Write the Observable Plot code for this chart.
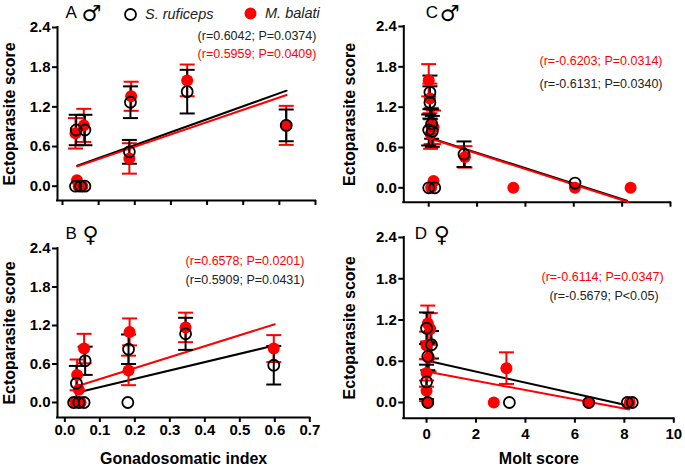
<!DOCTYPE html>
<html>
<head>
<meta charset="utf-8">
<script src="https://cdn.jsdelivr.net/npm/d3@7"></script>
<script src="https://cdn.jsdelivr.net/npm/@observablehq/plot@0.6"></script>
<style>
  html, body { margin: 0; padding: 0; background: #fff; }
  #chart { position: relative; width: 685px; height: 467px; overflow: hidden; font-family: 'Liberation Sans', Arial, Helvetica, sans-serif; }
  #chart svg.panel { position: absolute; }
  .lg-text { position: absolute; font-style: italic; font-size: 14.5px; line-height: 16px; color: #222; white-space: nowrap; }
</style>
</head>
<body>
<div id="chart">
  <svg style="position:absolute;left:123px;top:7px" width="15" height="15"><circle cx="7.5" cy="7.5" r="5.5" fill="none" stroke="black" stroke-width="1.8"/></svg>
  <div class="lg-text" style="left:145px;top:6px">S. ruficeps</div>
  <svg style="position:absolute;left:243px;top:6px" width="15" height="15"><circle cx="7.5" cy="7.5" r="6" fill="red"/></svg>
  <div class="lg-text" style="left:265px;top:5px">M. balati</div>
</div>
<script>
// ---- tick values ----
const scoreTicks = [0, 0.6, 1.2, 1.8, 2.4];
const gsiTicks = [0, 0.1, 0.2, 0.3, 0.4, 0.5, 0.6, 0.7];
const moltTicks = [0, 2, 4, 6, 8, 10];

// ---- labels ----
const yTitle = "Ectoparasite score";
const gsiTitle = "Gonadosomatic index";
const moltTitle = "Molt score";
const panelLetters = ["A", "B", "C", "D"];
const sexSymbols = ["\u2642", "\u2640", "\u2642", "\u2640"];

// ---- data: [x, mean ectoparasite score, SE] ----
// Panel A: males, GSI
const maleGsiRuficeps = [[0.038,0.85,0.23],[0.062,0.85,0.23],[0.036,0,0],[0.05,0,0],[0.062,0,0],[0.188,1.27,0.24],[0.185,0.52,0.18],[0.345,1.43,0.33],[0.619,0.92,0.24]];
const maleGsiBalati = [[0.036,0.80,0.23],[0.059,0.92,0.25],[0.04,0.09,0],[0.045,0,0],[0.055,0,0],[0.19,1.36,0.22],[0.185,0.42,0.23],[0.345,1.60,0.24],[0.619,0.92,0.295]];
const maleGsiFitRuficeps = [[0.041,0.31],[0.62,1.445]];
const maleGsiFitBalati = [[0.041,0.30],[0.62,1.38]];
const maleGsiStats = ["(r=0.6042; P=0.0374)", "(r=0.5959; P=0.0409)"];

// Panel B: females, GSI
const femaleGsiRuficeps = [[0.033,0.30,0.27],[0.058,0.65,0.22],[0.025,0,0],[0.04,0,0],[0.055,0,0],[0.182,0.83,0.23],[0.18,0,0],[0.345,1.07,0.25],[0.597,0.58,0.30]];
const femaleGsiBalati = [[0.035,0.43,0.24],[0.04,0.2,0],[0.055,0.84,0.23],[0.03,0,0],[0.045,0,0],[0.185,1.10,0.21],[0.182,0.50,0.23],[0.345,1.17,0.23],[0.597,0.84,0.21]];
const femaleGsiFitRuficeps = [[0.039,0.16],[0.60,0.89]];
const femaleGsiFitBalati = [[0.039,0.26],[0.60,1.22]];
const femaleGsiStats = ["(r=0.6578; P=0.0201)", "(r=0.5909; P=0.0431)"];

// Panel C: males, molt
const maleMoltRuficeps = [[0.05,1.42,0.25],[0.05,1.27,0.24],[0.12,0.95,0.22],[0,0.86,0.23],[0.15,0.84,0.23],[1.46,0.5,0.19],[0,0,0],[0.25,0,0],[6.05,0.07,0]];
const maleMoltBalati = [[0,1.6,0.24],[0.05,1.33,0.22],[0.1,0.92,0.27],[0.2,0.9,0.25],[0.08,0.8,0.22],[1.5,0.46,0.16],[0.1,0,0],[0.2,0.1,0],[3.5,0,0],[6.05,0,0],[8.35,0,0]];
const maleMoltFitRuficeps = [[0,0.75],[8.2,-0.19]];
const maleMoltFitBalati = [[0,0.74],[8.25,-0.21]];
const maleMoltStats = ["(r=-0.6203; P=0.0314)", "(r=-0.6131; P=0.0340)"];

// Panel D: females, molt
const femaleMoltRuficeps = [[0,1.08,0.23],[0.2,0.84,0.2],[0.05,0.67,0.2],[0,0.3,0.25],[0.05,0,0],[3.35,0,0],[6.56,0,0],[8.12,0,0],[8.32,0,0]];
const femaleMoltBalati = [[0.05,1.15,0.26],[0.15,1.07,0.23],[0,0.83,0.2],[0.1,0.65,0.2],[0,0.43,0.2],[0,0.17,0.15],[0.05,0,0],[2.72,0,0],[3.23,0.5,0.23],[6.56,0,0],[8.22,0,0]];
const femaleMoltFitRuficeps = [[0,0.61],[8.1,-0.04]];
const femaleMoltFitBalati = [[0,0.45],[8.2,-0.1]];
const femaleMoltStats = ["(r=-0.6114; P=0.0347)", "(r=-0.5679; P<0.05)"];

const FONT = "'Liberation Sans', Arial, Helvetica, sans-serif";
const capSymbol = { draw(ctx) { ctx.moveTo(-7.5, 0); ctx.lineTo(7.5, 0); } };

function panel(cfg) {
  const row = d => ({x: d[0], y: d[1], se: d[2]});
  const ruf = cfg.ruf.map(row), bal = cfg.bal.map(row);
  const bars = s => s.filter(d => d.se > 0);
  const errMarks = (s, color) => [
    Plot.ruleX(bars(s), {x: "x", y1: d => d.y - d.se, y2: d => d.y + d.se, stroke: color, strokeWidth: 2}),
    Plot.dot(bars(s), {x: "x", y: d => d.y + d.se, symbol: capSymbol, fill: "none", stroke: color, strokeWidth: 2}),
    Plot.dot(bars(s), {x: "x", y: d => d.y - d.se, symbol: capSymbol, fill: "none", stroke: color, strokeWidth: 2})
  ];
  const statMarks = cfg.stats.map((t, i) => Plot.text([t], {
    text: d => d, frameAnchor: "top-left", dx: cfg.statDx[i], dy: cfg.statDy[i],
    textAnchor: "middle", lineAnchor: "middle", fontSize: 12.5, fontWeight: "normal",
    fill: cfg.statColors[i]
  }));
  const marks = [
    Plot.ruleX([cfg.xDomain[0]], {stroke: "black", strokeWidth: 2, strokeLinecap: "square"}),
    Plot.ruleY([cfg.yDomain[0]], {stroke: "black", strokeWidth: 2, strokeLinecap: "square"}),
    Plot.axisY({ticks: scoreTicks, tickFormat: d3.format(".1f"), tickSize: 5, tickPadding: 2, strokeWidth: 2, fontSize: 15, fontWeight: "bold", label: null}),
    Plot.axisX({ticks: cfg.xTicks, tickFormat: cfg.xFormat ? cfg.xFormat : () => "", tickSize: 5, tickPadding: cfg.tickPadX, strokeWidth: 2, fontSize: 15, fontWeight: "bold", label: null}),
    Plot.line(cfg.fitRuf, {x: d => d[0], y: d => d[1], stroke: "black", strokeWidth: 2}),
    Plot.line(cfg.fitBal, {x: d => d[0], y: d => d[1], stroke: "red", strokeWidth: 2}),
    ...errMarks(bal, "red"),
    ...errMarks(ruf, "black"),
    Plot.dot(bal, {x: "x", y: "y", r: 6, fill: "red"}),
    Plot.dot(ruf, {x: "x", y: "y", r: 5.5, fill: "none", stroke: "black", strokeWidth: 1.8}),
    Plot.text([yTitle], {text: d => d, frameAnchor: "left", rotate: -90, dx: 3 - cfg.marginLeft, textAnchor: "middle", lineAnchor: "top", fontSize: 16, fontWeight: "bold"}),
    Plot.text([cfg.letter], {text: d => d, frameAnchor: "top-left", dx: cfg.letterDx, dy: cfg.letterDy, textAnchor: "start", lineAnchor: "middle", fontSize: 17, fontWeight: "normal"}),
    Plot.text([cfg.sex], {text: d => d, frameAnchor: "top-left", dx: cfg.sexDx, dy: cfg.letterDy + 1, textAnchor: "start", lineAnchor: "middle", fontSize: 22, fontWeight: "normal", fontFamily: "'DejaVu Sans', sans-serif"}),
    ...statMarks
  ];
  if (cfg.xTitle) {
    marks.push(Plot.text([cfg.xTitle], {text: d => d, frameAnchor: "bottom", dy: 46, lineAnchor: "bottom", fontSize: 16, fontWeight: "bold"}));
  }
  const svg = Plot.plot({
    width: cfg.width, height: cfg.height,
    marginLeft: cfg.marginLeft, marginRight: cfg.marginRight,
    marginTop: cfg.marginTop, marginBottom: cfg.marginBottom,
    x: {domain: cfg.xDomain},
    y: {domain: cfg.yDomain},
    style: {fontFamily: FONT, fontSize: "15px", fontWeight: "bold", color: "black", background: "transparent", overflow: "visible"},
    marks
  });
  svg.classList.add("panel");
  svg.style.left = cfg.left + "px";
  svg.style.top = cfg.top + "px";
  return svg;
}

const chart = document.getElementById("chart");
const gsiFmt = d3.format(".1f");
const moltFmt = d3.format("d");

chart.appendChild(panel({
  left: 0, top: 0, width: 340, height: 210,
  marginLeft: 57, marginRight: 25, marginTop: 27, marginBottom: 10,
  xDomain: [-0.0138, 0.7], yDomain: [-0.216, 2.4], xTicks: gsiTicks, xFormat: null, tickPadX: 3,
  ruf: maleGsiRuficeps, bal: maleGsiBalati, fitRuf: maleGsiFitRuficeps, fitBal: maleGsiFitBalati,
  stats: maleGsiStats, statColors: ["#222", "red"], statDx: [199.5, 199.5], statDy: [8, 26],
  letter: panelLetters[0], sex: sexSymbols[0], letterDx: 8, sexDx: 24, letterDy: -15
}));
chart.appendChild(panel({
  left: 0, top: 210, width: 340, height: 257,
  marginLeft: 57, marginRight: 30.7, marginTop: 38, marginBottom: 50,
  xDomain: [-0.021, 0.7], yDomain: [-0.234, 2.4], xTicks: gsiTicks, xFormat: gsiFmt, tickPadX: 2,
  ruf: femaleGsiRuficeps, bal: femaleGsiBalati, fitRuf: femaleGsiFitRuficeps, fitBal: femaleGsiFitBalati,
  stats: femaleGsiStats, statColors: ["red", "#222"], statDx: [187.5, 187.5], statDy: [12, 31],
  letter: panelLetters[1], sex: sexSymbols[1], letterDx: 8, sexDx: 25, letterDy: -15, xTitle: gsiTitle
}));
chart.appendChild(panel({
  left: 340, top: 0, width: 345, height: 210,
  marginLeft: 63.3, marginRight: 15, marginTop: 26, marginBottom: 8.3,
  xDomain: [-1.03, 10], yDomain: [-0.214, 2.4], xTicks: moltTicks, xFormat: null, tickPadX: 3,
  ruf: maleMoltRuficeps, bal: maleMoltBalati, fitRuf: maleMoltFitRuficeps, fitBal: maleMoltFitBalati,
  stats: maleMoltStats, statColors: ["red", "#222"], statDx: [197.2, 197.2], statDy: [34, 57],
  letter: panelLetters[2], sex: sexSymbols[2], letterDx: 22, sexDx: 36, letterDy: -14
}));
chart.appendChild(panel({
  left: 340, top: 210, width: 345, height: 257,
  marginLeft: 63.3, marginRight: 11.7, marginTop: 27, marginBottom: 49.3,
  xDomain: [-0.92, 10], yDomain: [-0.228, 2.4], xTicks: moltTicks, xFormat: moltFmt, tickPadX: 5,
  ruf: femaleMoltRuficeps, bal: femaleMoltBalati, fitRuf: femaleMoltFitRuficeps, fitBal: femaleMoltFitBalati,
  stats: femaleMoltStats, statColors: ["red", "#222"], statDx: [198.7, 200.2], statDy: [39, 58],
  letter: panelLetters[3], sex: sexSymbols[3], letterDx: 11, sexDx: 30, letterDy: -4, xTitle: moltTitle
}));
</script>
</body>
</html>
